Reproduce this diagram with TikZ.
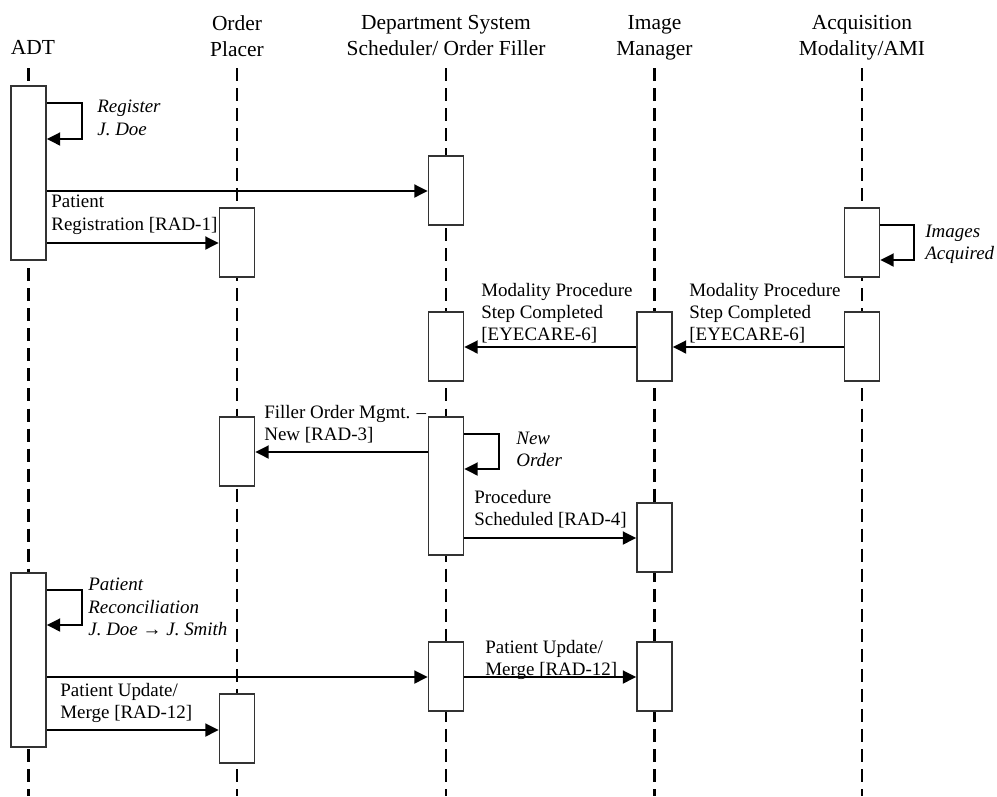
\documentclass[tikz,border=0pt]{standalone}
\usepackage{fontspec}
\setmainfont{Liberation Serif}
\usetikzlibrary{arrows.meta}

\begin{document}
\begin{tikzpicture}[x=0.02cm, y=-0.02cm, >={Triangle[length=7.6pt,width=7.4pt]},
	act/.style={draw=black!80, line width=1pt, fill=white, minimum width=0.7cm, minimum height=1.38cm, inner sep=0pt},
	msg/.style={->, line width=1.1pt},
	life/.style={line width=1.6pt, dash pattern=on 7.4pt off 4pt},
	head/.style={align=center, anchor=north, inner sep=0pt, font=\fontsize{12.2}{14.7}\selectfont},
	lbl/.style={align=left, anchor=north west, inner sep=0pt, font=\fontsize{10.8}{12.6}\selectfont},
	note/.style={lbl, font=\fontsize{10.8}{12.6}\selectfont\itshape}]
		\useasboundingbox (0,0) rectangle (997,796);
		% actors
		\node[head] (tadt) at (33,40) {ADT};
		\node[head] (top) at (237,15) {Order\\Placer};
		\node[head] (tdss) at (446,15) {Department System\\Scheduler/ Order Filler};
		\node[head] (tim) at (654.5,15) {Image\\Manager};
		\node[head] (tacq) at (862,15) {Acquisition\\Modality/AMI};
		% lifelines
		\foreach \n/\x in {adt/28.5, op/237, dss/446, im/654.5, acq/862} {
			\coordinate (l\n) at (\x,68);
			\draw[life] (l\n) -- (\x,796);
		}
		% activations
		\node[act, minimum height=3.48cm] (adt1) at (ladt |- 0,173) {};
		\node[act] (dss1) at (ldss |- 0,190.5) {};
		\node[act] (op1) at (lop |- 0,242.5) {};
		\node[act] (acq1) at (lacq |- 0,242.5) {};
		\node[act] (dss2) at (ldss |- 0,346.5) {};
		\node[act] (im1) at (lim |- 0,346.5) {};
		\node[act] (acq2) at (lacq |- 0,346.5) {};
		\node[act] (op2) at (lop |- 0,451.5) {};
		\node[act, minimum height=2.76cm] (dss3) at (ldss |- 0,486) {};
		\node[act] (im2) at (lim |- 0,537.5) {};
		\node[act, minimum height=3.48cm] (adt2) at (ladt |- 0,660) {};
		\node[act] (dss4) at (ldss |- 0,676.5) {};
		\node[act] (im3) at (lim |- 0,676.5) {};
		\node[act] (op3) at (lop |- 0,728.5) {};
		% messages
		\draw[msg] (adt1.east |- 0,103) -- ++(35,0) |- (adt1.east |- 0,139);
		\node[note] (reg) at (97,100) {Register\\J. Doe};
		\draw[msg] (adt1.east |- 0,191) -- (dss1.west |- 0,191);
		\draw[msg] (adt1.east |- 0,243) -- (op1.west |- 0,243);
		\node[lbl] (rad1) at (51,195) {Patient\\Registration [RAD-1]};
		\draw[msg] (acq1.east |- 0,225) -- ++(34,0) |- (acq1.east |- 0,260);
		\node[note] (img) at (925,225) {Images\\Acquired};
		\draw[msg] (acq2.west |- 0,347) -- (im1.east |- 0,347);
		\node[lbl] (eye1) at (689,283) {Modality Procedure\\Step Completed\\{[EYECARE-6]}};
		\draw[msg] (im1.west |- 0,347) -- (dss2.east |- 0,347);
		\node[lbl] (eye2) at (481,283) {Modality Procedure\\Step Completed\\{[EYECARE-6]}};
		\draw[msg] (dss3.west |- 0,452) -- (op2.east |- 0,452);
		\node[lbl] (rad3) at (264,405) {Filler Order Mgmt. –\\New [RAD-3]};
		\draw[msg] (dss3.east |- 0,434) -- ++(35,0) |- (dss3.east |- 0,469);
		\node[note] (neword) at (516,432) {New\\Order};
		\draw[msg] (dss3.east |- 0,538) -- (im2.west |- 0,538);
		\node[lbl] (rad4) at (474,490) {Procedure\\Scheduled [RAD-4]};
		\draw[msg] (adt2.east |- 0,590) -- ++(35,0) |- (adt2.east |- 0,625);
		\node[note] (recon) at (88,578) {Patient\\Reconciliation\\J. Doe → J. Smith};
		\draw[msg] (adt2.east |- 0,677) -- (dss4.west |- 0,677);
		\draw[msg] (dss4.east |- 0,677) -- (im3.west |- 0,677);
		\node[lbl] (rad12a) at (485,640) {Patient Update/\\Merge [RAD-12]};
		\draw[msg] (adt2.east |- 0,730) -- (op3.west |- 0,730);
		\node[lbl] (rad12b) at (60,683) {Patient Update/\\Merge [RAD-12]};
\end{tikzpicture}
\end{document}
